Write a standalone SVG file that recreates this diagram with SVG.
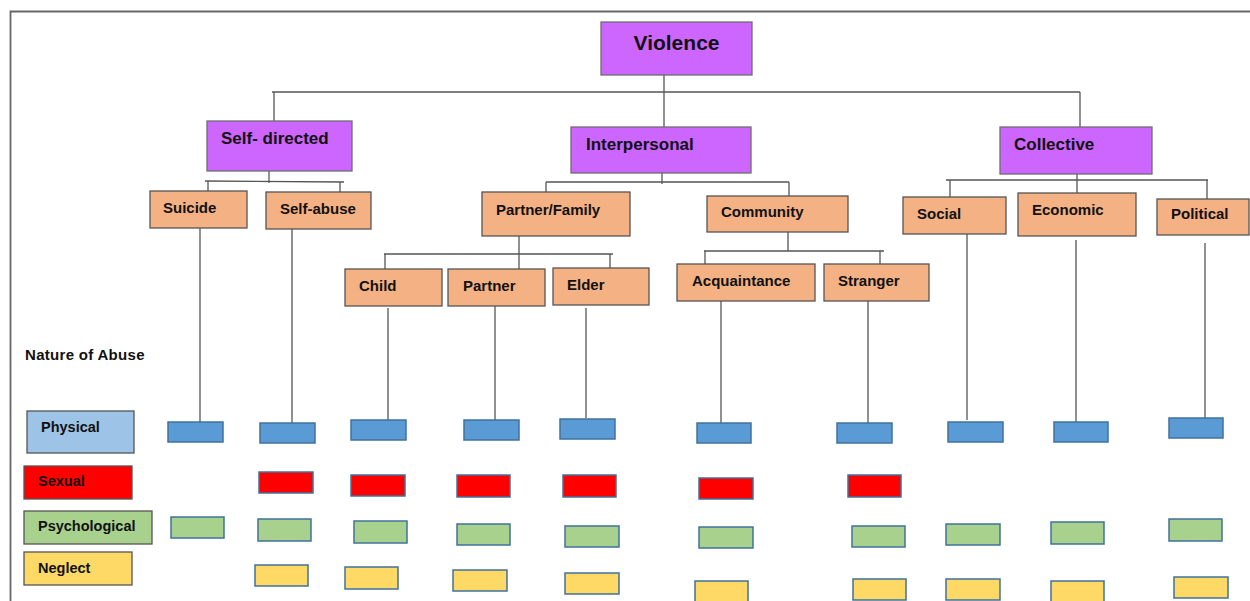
<svg xmlns="http://www.w3.org/2000/svg" width="1250" height="601" viewBox="0 0 1250 601">
<style>
text{font-family:"Liberation Sans",Arial,sans-serif;font-weight:bold;fill:#111;dominant-baseline:central}
.l1{fill:#CC66FF;stroke:#6E6E6E;stroke-width:1.3}
.l2{fill:#F4B183;stroke:#555;stroke-width:1.3}
.t1{font-size:17px}
.t2{font-size:15px}
.c line{stroke:#555;stroke-width:1.3}
.ph{fill:#5B9BD5;stroke:#41719C;stroke-width:1.5}
.sx{fill:#FF0000;stroke:#41719C;stroke-width:1.5}
.ps{fill:#A9D18E;stroke:#41719C;stroke-width:1.5}
.ng{fill:#FFD966;stroke:#41719C;stroke-width:1.5}
.lg{stroke:#555;stroke-width:1.3}
</style>
<rect width="1250" height="601" fill="#fff"/>
<path d="M10.5 601 V11.5 H1250" fill="none" stroke="#666" stroke-width="1.8"/>
<g id="connectors" class="c">
<line x1="272" y1="92" x2="1080" y2="92"/>
<line x1="664" y1="75" x2="664" y2="127"/>
<line x1="274" y1="92" x2="274" y2="121"/>
<line x1="1080" y1="92" x2="1080" y2="127"/>
<line x1="205" y1="181" x2="344" y2="182"/>
<line x1="269" y1="171" x2="269" y2="183"/>
<line x1="208" y1="181" x2="208" y2="191"/>
<line x1="340" y1="182" x2="340" y2="192"/>
<line x1="546" y1="182" x2="789" y2="182"/>
<line x1="662" y1="170" x2="662" y2="184"/>
<line x1="546" y1="182" x2="546" y2="192"/>
<line x1="789" y1="182" x2="789" y2="196"/>
<line x1="946" y1="180" x2="1208" y2="180"/>
<line x1="1077" y1="174" x2="1077" y2="193"/>
<line x1="950" y1="180" x2="950" y2="197"/>
<line x1="1207" y1="180" x2="1207" y2="199"/>
<line x1="384" y1="254" x2="613" y2="254"/>
<line x1="519" y1="236" x2="519" y2="269"/>
<line x1="385" y1="254" x2="385" y2="269"/>
<line x1="610" y1="254" x2="610" y2="268"/>
<line x1="704" y1="251" x2="884" y2="251"/>
<line x1="788" y1="232" x2="788" y2="251"/>
<line x1="705" y1="251" x2="705" y2="264"/>
<line x1="880" y1="251" x2="880" y2="264"/>
<line x1="200" y1="228" x2="200" y2="423"/>
<line x1="292" y1="229" x2="292" y2="423"/>
<line x1="388" y1="308" x2="388" y2="421"/>
<line x1="495" y1="306" x2="495" y2="421"/>
<line x1="586" y1="308" x2="586" y2="418"/>
<line x1="721" y1="301" x2="721" y2="423"/>
<line x1="868" y1="301" x2="868" y2="425"/>
<line x1="967" y1="234" x2="967" y2="420"/>
<line x1="1076" y1="240" x2="1076" y2="422"/>
<line x1="1205" y1="243" x2="1205" y2="419"/>
</g>
<g id="violence"><rect class="l1" x="601" y="22" width="151" height="53"/><text x="676.5" y="42" font-size="21" text-anchor="middle">Violence</text></g>
<g id="self-directed"><rect class="l1" x="207" y="121" width="145" height="50"/><text class="t1" x="221" y="138">Self- directed</text></g>
<g id="interpersonal"><rect class="l1" x="571" y="127" width="180" height="46"/><text class="t1" x="586" y="144">Interpersonal</text></g>
<g id="collective"><rect class="l1" x="1000" y="127" width="152" height="47"/><text class="t1" x="1014" y="144">Collective</text></g>
<g id="suicide"><rect class="l2" x="150" y="191" width="97" height="37"/><text class="t2" x="163" y="207">Suicide</text></g>
<g id="self-abuse"><rect class="l2" x="266" y="192" width="105" height="37"/><text class="t2" x="280" y="208">Self-abuse</text></g>
<g id="partner-family"><rect class="l2" x="482" y="192" width="148" height="44"/><text class="t2" x="496" y="209">Partner/Family</text></g>
<g id="community"><rect class="l2" x="707" y="196" width="141" height="36"/><text class="t2" x="721" y="211">Community</text></g>
<g id="social"><rect class="l2" x="903" y="197" width="103" height="37"/><text class="t2" x="917" y="213">Social</text></g>
<g id="economic"><rect class="l2" x="1018" y="193" width="118" height="43"/><text class="t2" x="1032" y="209">Economic</text></g>
<g id="political"><rect class="l2" x="1157" y="199" width="92" height="36"/><text class="t2" x="1171" y="213">Political</text></g>
<g id="child"><rect class="l2" x="345" y="269" width="97" height="37"/><text class="t2" x="359" y="285">Child</text></g>
<g id="partner"><rect class="l2" x="448" y="269" width="97" height="37"/><text class="t2" x="463" y="285">Partner</text></g>
<g id="elder"><rect class="l2" x="553" y="268" width="96" height="37"/><text class="t2" x="567" y="284">Elder</text></g>
<g id="acquaintance"><rect class="l2" x="677" y="264" width="138" height="37"/><text class="t2" x="692" y="280">Acquaintance</text></g>
<g id="stranger"><rect class="l2" x="824" y="264" width="105" height="37"/><text class="t2" x="838" y="280">Stranger</text></g>
<g id="legend">
<text x="25" y="354" font-size="15" letter-spacing="0.3">Nature of Abuse</text>
<g id="legend-physical"><rect class="lg" x="27" y="411" width="107" height="42" fill="#9DC3E6"/><text x="41" y="427" font-size="14.5">Physical</text></g>
<g id="legend-sexual"><rect class="lg" x="24" y="466" width="108" height="33" fill="#FF0000"/><text x="38" y="481" font-size="14.5">Sexual</text></g>
<g id="legend-psychological"><rect class="lg" x="24" y="511" width="128" height="33" fill="#A9D18E"/><text x="38" y="526" font-size="14.5">Psychological</text></g>
<g id="legend-neglect"><rect class="lg" x="24" y="552" width="108" height="33" fill="#FFD966"/><text x="38" y="568" font-size="14.5">Neglect</text></g>
</g>
<g id="physical-boxes">
<rect class="ph" x="168" y="422" width="55" height="20"/>
<rect class="ph" x="260" y="423" width="55" height="20"/>
<rect class="ph" x="351" y="420" width="55" height="20"/>
<rect class="ph" x="464" y="420" width="55" height="20"/>
<rect class="ph" x="560" y="419" width="55" height="20"/>
<rect class="ph" x="697" y="423" width="54" height="20"/>
<rect class="ph" x="837" y="423" width="55" height="20"/>
<rect class="ph" x="948" y="422" width="55" height="20"/>
<rect class="ph" x="1054" y="422" width="54" height="20"/>
<rect class="ph" x="1169" y="418" width="54" height="20"/>
</g>
<g id="sexual-boxes">
<rect class="sx" x="259" y="472" width="54" height="21"/>
<rect class="sx" x="351" y="475" width="54" height="21"/>
<rect class="sx" x="457" y="475" width="53" height="22"/>
<rect class="sx" x="563" y="475" width="53" height="22"/>
<rect class="sx" x="699" y="478" width="54" height="21"/>
<rect class="sx" x="848" y="475" width="53" height="22"/>
</g>
<g id="psychological-boxes">
<rect class="ps" x="171" y="517" width="53" height="21"/>
<rect class="ps" x="258" y="519" width="53" height="22"/>
<rect class="ps" x="354" y="521" width="53" height="22"/>
<rect class="ps" x="457" y="524" width="53" height="21"/>
<rect class="ps" x="565" y="526" width="54" height="21"/>
<rect class="ps" x="699" y="527" width="54" height="21"/>
<rect class="ps" x="852" y="526" width="53" height="21"/>
<rect class="ps" x="946" y="524" width="54" height="21"/>
<rect class="ps" x="1051" y="522" width="53" height="22"/>
<rect class="ps" x="1169" y="519" width="53" height="22"/>
</g>
<g id="neglect-boxes">
<rect class="ng" x="255" y="565" width="53" height="21"/>
<rect class="ng" x="345" y="567" width="53" height="22"/>
<rect class="ng" x="453" y="570" width="54" height="21"/>
<rect class="ng" x="565" y="573" width="54" height="21"/>
<rect class="ng" x="695" y="581" width="53" height="24"/>
<rect class="ng" x="853" y="579" width="53" height="21"/>
<rect class="ng" x="946" y="579" width="54" height="21"/>
<rect class="ng" x="1051" y="581" width="53" height="24"/>
<rect class="ng" x="1174" y="577" width="54" height="21"/>
</g>
</svg>
